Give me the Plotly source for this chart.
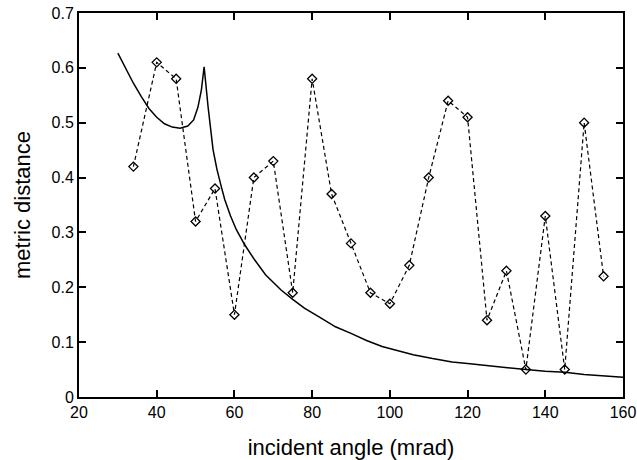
import plotly.graph_objects as go

# measured data (dashed line with diamonds)
angle = [34, 40, 45, 50, 55, 60, 65, 70, 75, 80, 85, 90, 95, 100, 105, 110,
         115, 120, 125, 130, 135, 140, 145, 150, 155]
distance = [0.42, 0.61, 0.58, 0.32, 0.38, 0.15, 0.40, 0.43, 0.19, 0.58, 0.37,
            0.28, 0.19, 0.17, 0.24, 0.40, 0.54, 0.51, 0.14, 0.23, 0.05, 0.33,
            0.05, 0.50, 0.22]

# solid curve
curve_x = [30, 32, 34, 36, 38, 40, 42, 44, 46, 48, 49.5, 50.6, 51.5, 52.2,
           53.2, 54.5, 55.5, 56.6, 57.5, 59, 60.5, 62.6, 65, 68, 72, 75, 78,
           82, 86, 90, 94, 98, 102, 106, 111, 116, 120, 125, 130, 135, 140,
           145, 150, 155, 160]
curve_y = [0.627, 0.598, 0.572, 0.548, 0.526, 0.510, 0.498, 0.492, 0.490,
           0.494, 0.505, 0.528, 0.560, 0.602, 0.530, 0.451, 0.415, 0.384,
           0.360, 0.330, 0.305, 0.278, 0.252, 0.223, 0.195, 0.178, 0.162,
           0.145, 0.128, 0.116, 0.103, 0.092, 0.084, 0.077, 0.070, 0.064,
           0.061, 0.057, 0.054, 0.050, 0.047, 0.045, 0.041, 0.039, 0.036]

x_ticks = [20, 40, 60, 80, 100, 120, 140, 160]
y_ticks = [0, 0.1, 0.2, 0.3, 0.4, 0.5, 0.6, 0.7]
y_ticktext = ["0", "0.1", "0.2", "0.3", "0.4", "0.5", "0.6", "0.7"]

FONT = "Liberation Sans, Arial, Helvetica, sans-serif"

fig = go.Figure()
fig.add_trace(go.Scatter(
    x=curve_x, y=curve_y, mode="lines",
    line=dict(color="black", width=1.5),
    showlegend=False, hoverinfo="skip"))
fig.add_trace(go.Scatter(
    x=angle, y=distance, mode="lines+markers",
    line=dict(color="black", width=1.2, dash="4px,3px"),
    marker=dict(symbol="diamond-open", size=7, color="black",
                line=dict(color="black", width=1.3)),
    showlegend=False))

axis_common = dict(
    showline=True, linecolor="black", linewidth=2, mirror="allticks",
    ticks="inside", ticklen=7, tickwidth=1.5, tickcolor="black",
    showgrid=False, zeroline=False, automargin=False,
    tickfont=dict(family=FONT, size=16, color="black"),
)

fig.update_xaxes(
    range=[20, 160], tickvals=x_ticks,
    title=dict(text="incident angle (mrad)", standoff=19,
               font=dict(family=FONT, size=22, color="black")),
    **axis_common)
fig.update_yaxes(
    range=[0, 0.7], tickvals=y_ticks, ticktext=y_ticktext,
    title=dict(text="metric distance", standoff=15,
               font=dict(family=FONT, size=22, color="black")),
    **axis_common)

fig.update_layout(
    width=637, height=460,
    margin=dict(l=79, r=14, t=13, b=63),
    paper_bgcolor="white", plot_bgcolor="white",
    font=dict(family=FONT, color="black"),
)

fig.write_html("out.html")
